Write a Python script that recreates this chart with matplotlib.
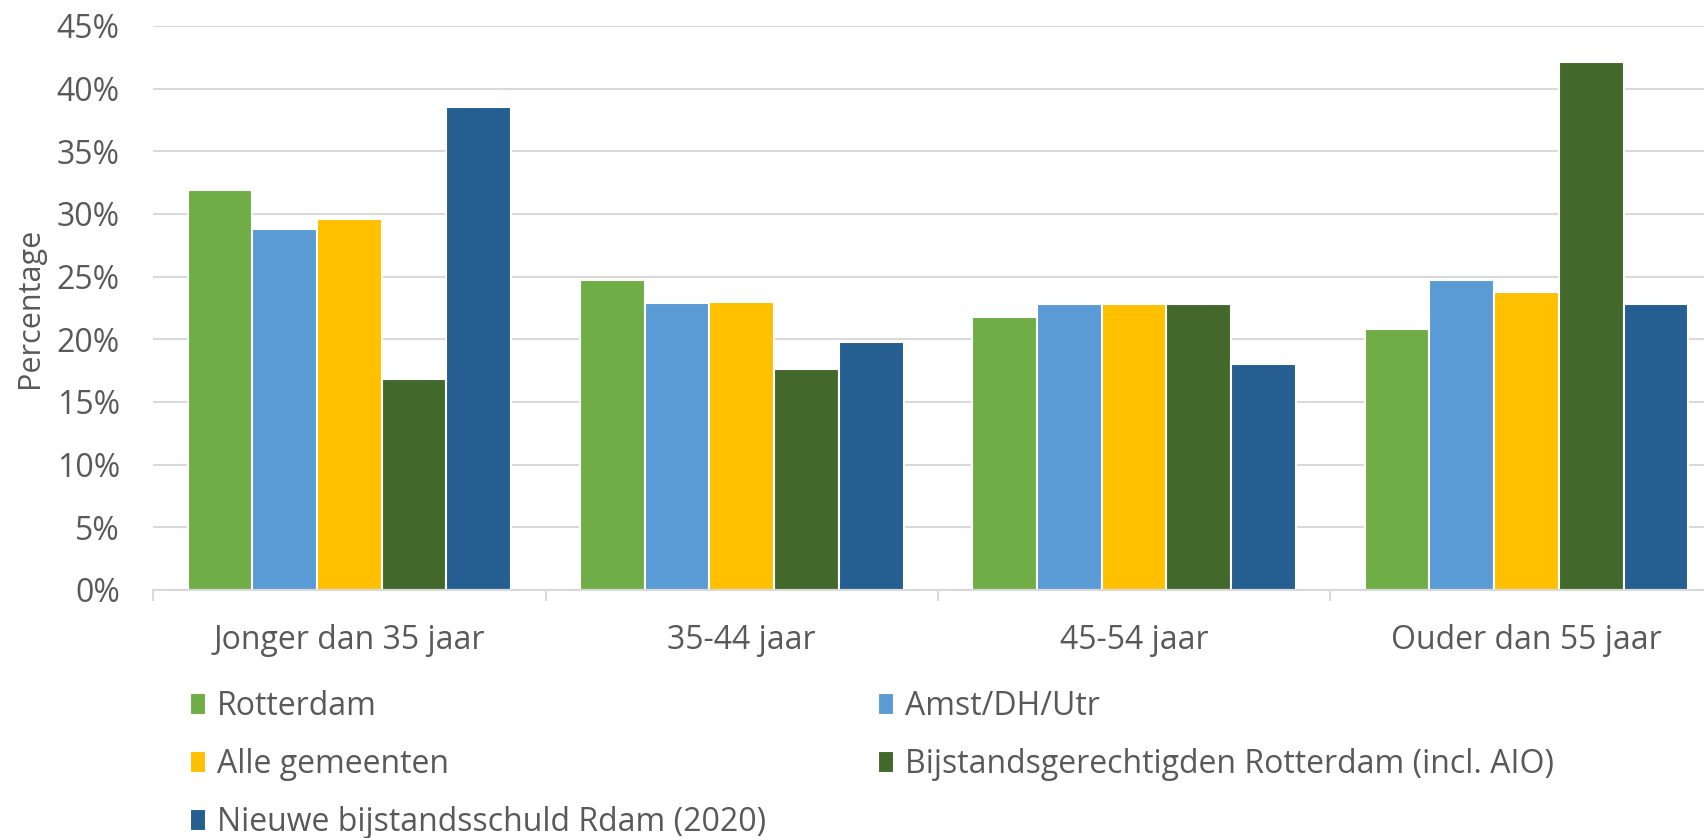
import numpy as np
import matplotlib
matplotlib.use('Agg')
import matplotlib.pyplot as plt
from matplotlib.ticker import FuncFormatter, FixedLocator

plt.rcParams['font.family'] = ['Open Sans', 'DejaVu Sans']

# data (percentages)
categories = ['Jonger dan 35 jaar', '35-44 jaar', '45-54 jaar', 'Ouder dan 55 jaar']
series_names = ['Rotterdam', 'Amst/DH/Utr', 'Alle gemeenten',
                'Bijstandsgerechtigden Rotterdam (incl. AIO)',
                'Nieuwe bijstandsschuld Rdam (2020)']
rotterdam = [31.9, 24.7, 21.8, 20.8]
amst_dh_utr = [28.8, 22.9, 22.8, 24.7]
alle_gemeenten = [29.6, 23.0, 22.8, 23.8]
bijstand_rdam = [16.8, 17.6, 22.8, 42.1]
nieuwe_schuld = [38.5, 19.8, 18.0, 22.8]
yticks = [0, 5, 10, 15, 20, 25, 30, 35, 40, 45]

colors = ['#70AD47', '#5B9BD5', '#FFC000', '#43682B', '#255E91']
text_col = '#595959'
grid_col = '#D9D9D9'

fig = plt.figure(figsize=(17.04, 8.38), dpi=100)
# the original is cropped at the right, so the axes run a bit past the figure edge
ax = fig.add_axes([0.0899, 0.296, 0.921, 0.673])

all_series = [rotterdam, amst_dh_utr, alle_gemeenten, bijstand_rdam, nieuwe_schuld]
x = np.arange(len(categories))
bw = 0.165
handles = []
for i, (vals, col, name) in enumerate(zip(all_series, colors, series_names)):
    offs = (i - 2) * bw
    b = ax.bar(x + offs, vals, width=bw, color=col, edgecolor='white',
               linewidth=1.5, label=name, zorder=3)
    handles.append(b)

ax.set_xlim(-0.5, 3.5)
ax.set_ylim(0, 45)
ax.yaxis.set_major_locator(FixedLocator(yticks))
ax.yaxis.set_major_formatter(FuncFormatter(lambda v, p: f'{v:.0f}%'))
ax.grid(axis='y', color=grid_col, linewidth=1.5, zorder=0)
ax.set_axisbelow(True)

for s in ['top', 'right', 'left']:
    ax.spines[s].set_visible(False)
ax.spines['bottom'].set_color(grid_col)
ax.spines['bottom'].set_linewidth(1.5)
ax.spines['bottom'].set_zorder(4)

ax.set_xticks(x)
ax.set_xticklabels(categories)
ax.set_xticks(np.arange(-0.5, 4.0, 1.0), minor=True)
ax.tick_params(axis='x', which='major', length=0, pad=24.5, labelsize=23, labelcolor=text_col)
ax.tick_params(axis='x', which='minor', length=8, width=1.5, color=grid_col)
ax.tick_params(axis='y', length=0, pad=24, labelsize=23, labelcolor=text_col)

ax.set_ylabel('Percentage', fontsize=22, color=text_col, labelpad=8)

# two-column legend, row order like the original
order = [0, 2, 4, 1, 3]
fig.legend([handles[k] for k in order], [series_names[k] for k in order],
           ncol=2, loc='upper left', bbox_to_anchor=(0.104, 0.1915),
           frameon=False, fontsize=23, labelcolor=text_col,
           handlelength=0.5, handleheight=0.65, handletextpad=0.35,
           columnspacing=3.5, labelspacing=0.78, borderaxespad=0)

fig.savefig('out.png', dpi=100)
